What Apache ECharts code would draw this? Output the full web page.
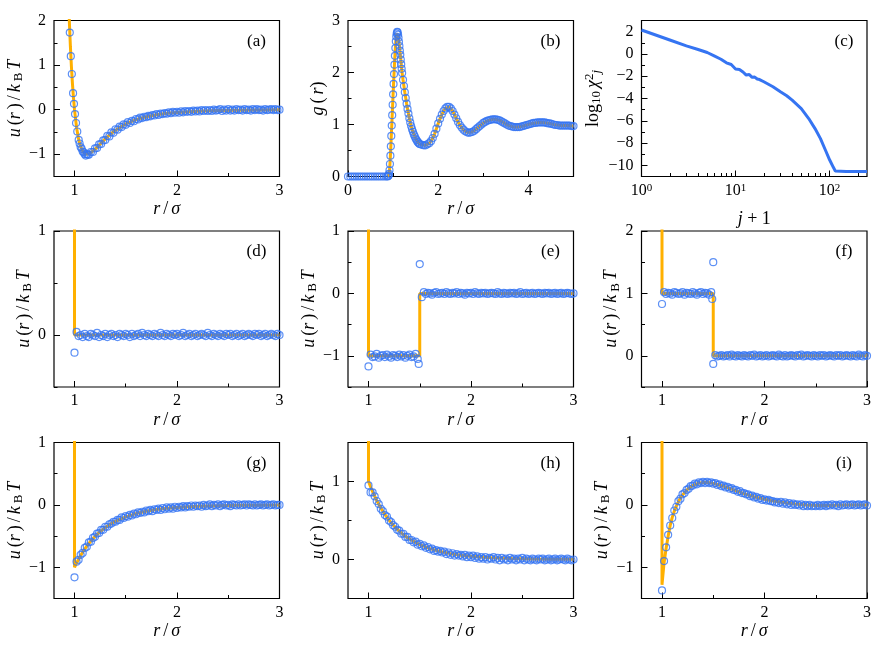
<!DOCTYPE html>
<html>
<head>
<meta charset="utf-8">
<script src="https://cdn.jsdelivr.net/npm/echarts@6.0.0/dist/echarts.min.js"></script>
<style>
  html, body { margin: 0; padding: 0; background: #fff; }
  #chart { width: 888px; height: 654px; }
</style>
</head>
<body>
<div id="chart"></div>
<script>
// ---- data ----
// common r grid for panels (d)-(i) and the tail of (a)
var R = [1.00, 1.02, 1.04, 1.06, 1.08, 1.10, 1.12, 1.14, 1.16, 1.18,
  1.20, 1.22, 1.24, 1.26, 1.28, 1.30, 1.32, 1.34, 1.36, 1.38,
  1.40, 1.42, 1.44, 1.46, 1.48, 1.50, 1.52, 1.54, 1.56, 1.58,
  1.60, 1.62, 1.64, 1.66, 1.68, 1.70, 1.72, 1.74, 1.76, 1.78,
  1.80, 1.82, 1.84, 1.86, 1.88, 1.90, 1.92, 1.94, 1.96, 1.98,
  2.00, 2.02, 2.04, 2.06, 2.08, 2.10, 2.12, 2.14, 2.16, 2.18,
  2.20, 2.22, 2.24, 2.26, 2.28, 2.30, 2.32, 2.34, 2.36, 2.38,
  2.40, 2.42, 2.44, 2.46, 2.48, 2.50, 2.52, 2.54, 2.56, 2.58,
  2.60, 2.62, 2.64, 2.66, 2.68, 2.70, 2.72, 2.74, 2.76, 2.78,
  2.80, 2.82, 2.84, 2.86, 2.88, 2.90, 2.92, 2.94, 2.96, 2.98,
  3.00];

// (a) Lennard-Jones
var R_A_HEAD = [0.954, 0.964, 0.974, 0.986, 0.995, 1.005, 1.015, 1.027, 1.041, 1.05, 1.06, 1.07, 1.08, 1.09, 1.10, 1.11, 1.12, 1.13];
var U_A_HEAD = [1.73, 1.20, 0.80, 0.37, 0.13, -0.10, -0.30, -0.49, -0.68, -0.76, -0.84, -0.88, -0.94, -0.96, -1.00, -1.03, -1.00, -1.01];
var U_A_TAIL = [ // r = 1.14 ... 3.00
  -1.01, -0.95, -0.95, -0.87, -0.86, -0.78, -0.77, -0.69, -0.68, -0.59,
  -0.60, -0.51, -0.52, -0.44, -0.45, -0.38, -0.39, -0.33, -0.34, -0.28,
  -0.30, -0.25, -0.26, -0.21, -0.22, -0.18, -0.19, -0.16, -0.17, -0.14,
  -0.15, -0.12, -0.13, -0.10, -0.12, -0.09, -0.10, -0.08, -0.09, -0.06,
  -0.08, -0.05, -0.07, -0.05, -0.07, -0.04, -0.06, -0.03, -0.05, -0.03,
  -0.05, -0.02, -0.04, -0.02, -0.04, -0.01, -0.03, -0.01, -0.03, -0.01,
  -0.03, 0.00, -0.02, -0.01, 0.01, -0.03, 0.00, -0.02, 0.01, -0.02,
  0.00, -0.02, 0.01, -0.01, 0.00, -0.02, 0.01, -0.01, 0.00, -0.02,
  0.01, -0.01, 0.01, -0.01, 0.00, -0.02, 0.01, -0.01, 0.00, 0.01,
  -0.01, 0.01, -0.01, 0.00];
var LINE_A = [[0.94, 2.607], [0.95, 1.961], [0.96, 1.418], [0.97, 0.963], [0.98, 0.582], [0.99, 0.264],
  [1.00, 0], [1.02, -0.398], [1.04, -0.663], [1.06, -0.832], [1.08, -0.932], [1.10, -0.983], [1.12, -1.0],
  [1.15, -0.982], [1.20, -0.891], [1.25, -0.774], [1.30, -0.657], [1.35, -0.552], [1.40, -0.461],
  [1.50, -0.320], [1.60, -0.224], [1.70, -0.159], [1.80, -0.114], [1.90, -0.083], [2.00, -0.062],
  [2.20, -0.035], [2.40, -0.021], [2.60, -0.013], [2.80, -0.008], [3.00, -0.005]];

// (b) g(r)
var G_B = [[0, 0], [0.05, 0], [0.1, 0], [0.15, 0], [0.2, 0], [0.25, 0], [0.3, 0], [0.35, 0], [0.4, 0], [0.45, 0],
  [0.5, 0], [0.55, 0], [0.6, 0], [0.65, 0], [0.7, 0], [0.75, 0], [0.8, 0], [0.85, 0], [0.88, 0], [0.89, 0.01],
  [0.90, 0.02], [0.91, 0.05], [0.92, 0.12], [0.93, 0.24], [0.94, 0.40], [0.95, 0.58], [0.96, 0.78], [0.97, 0.98],
  [0.98, 1.18], [0.99, 1.38], [1.00, 1.58], [1.01, 1.78], [1.02, 1.97], [1.03, 2.15], [1.04, 2.32], [1.05, 2.47],
  [1.06, 2.60], [1.07, 2.69], [1.08, 2.75], [1.09, 2.78], [1.10, 2.77], [1.11, 2.73], [1.12, 2.67], [1.13, 2.59],
  [1.14, 2.51], [1.15, 2.42], [1.16, 2.34], [1.17, 2.25], [1.18, 2.16], [1.19, 2.07], [1.20, 1.99],
  [1.22, 1.86], [1.24, 1.74], [1.26, 1.62], [1.28, 1.51], [1.30, 1.40], [1.32, 1.30], [1.34, 1.21], [1.36, 1.12],
  [1.38, 1.04], [1.40, 0.97], [1.42, 0.91], [1.44, 0.86], [1.46, 0.81], [1.48, 0.77], [1.50, 0.73], [1.52, 0.70],
  [1.54, 0.67], [1.56, 0.65], [1.58, 0.63], [1.60, 0.62],
  [1.64, 0.61], [1.68, 0.60], [1.72, 0.60], [1.76, 0.62], [1.80, 0.64], [1.84, 0.68], [1.88, 0.74], [1.92, 0.82],
  [1.96, 0.92], [2.00, 1.02], [2.04, 1.11], [2.08, 1.19], [2.12, 1.26], [2.16, 1.31], [2.20, 1.34], [2.24, 1.34],
  [2.28, 1.31], [2.32, 1.26], [2.36, 1.19], [2.40, 1.12], [2.44, 1.05], [2.48, 0.99], [2.52, 0.94], [2.56, 0.90],
  [2.60, 0.87], [2.64, 0.85], [2.68, 0.84], [2.72, 0.85], [2.76, 0.86], [2.80, 0.88], [2.84, 0.91], [2.88, 0.94],
  [2.92, 0.97], [2.96, 1.00], [3.00, 1.03], [3.04, 1.05], [3.08, 1.07], [3.12, 1.08], [3.16, 1.09], [3.20, 1.10],
  [3.24, 1.10], [3.28, 1.10], [3.32, 1.09], [3.36, 1.08], [3.40, 1.06], [3.44, 1.04], [3.48, 1.02], [3.52, 1.00],
  [3.56, 0.98], [3.60, 0.97], [3.64, 0.96], [3.68, 0.95], [3.72, 0.95], [3.76, 0.95], [3.80, 0.95], [3.84, 0.96],
  [3.88, 0.97], [3.92, 0.98], [3.96, 0.99], [4.00, 1.00], [4.04, 1.01], [4.08, 1.02], [4.12, 1.03], [4.16, 1.03],
  [4.20, 1.04], [4.24, 1.04], [4.28, 1.04], [4.32, 1.04], [4.36, 1.04], [4.40, 1.03], [4.44, 1.02], [4.48, 1.02],
  [4.52, 1.01], [4.56, 1.00], [4.60, 0.99], [4.64, 0.99], [4.68, 0.98], [4.72, 0.98], [4.76, 0.98], [4.80, 0.98],
  [4.84, 0.98], [4.88, 0.98], [4.92, 0.98], [4.96, 0.97], [5.00, 0.97]];

// (c) log10 chi^2 vs j+1
var CHI = [[1, 2.15], [2, 1.25], [3, 0.72], [4, 0.40], [5, 0.13], [6, -0.20], [7, -0.48], [8, -0.80], [9, -0.95],
  [10, -1.35], [11, -1.40], [12, -1.62], [13, -1.90], [14, -1.85], [15, -2.10], [16, -2.08], [17, -2.25], [18, -2.30],
  [20, -2.50], [25, -2.95], [30, -3.40], [35, -3.75], [40, -4.15], [50, -4.90], [60, -5.80], [70, -6.70], [80, -7.60],
  [90, -8.60], [100, -9.50], [110, -10.20], [115, -10.50], [120, -10.55], [150, -10.55], [200, -10.55], [250, -10.55]];

// (d) hard sphere
var U_D = [-0.17, 0.03, -0.01, 0.00, -0.02, 0.01, -0.01, -0.02, 0.01, 0.00,
  -0.01, 0.02, -0.02, 0.00, -0.01, 0.01, -0.02, 0.00, 0.01, -0.01,
  0.00, -0.02, 0.01, 0.00, -0.01, 0.01, 0.00, -0.02, 0.01, -0.01,
  0.00, 0.01, -0.01, 0.02, 0.00, -0.01, 0.01, 0.00, -0.01, 0.01,
  0.00, -0.01, 0.02, 0.00, -0.01, 0.01, 0.00, -0.01, 0.01, 0.00,
  0.01, -0.01, 0.00, 0.02, -0.01, 0.00, 0.01, -0.01, 0.00, 0.01,
  -0.01, 0.00, 0.01, 0.00, -0.01, 0.02, 0.00, -0.01, 0.01, 0.00,
  -0.01, 0.01, 0.00, -0.01, 0.01, 0.00, 0.01, -0.01, 0.00, 0.01,
  -0.01, 0.00, 0.01, -0.01, 0.00, 0.01, 0.00, -0.01, 0.01, 0.00,
  0.01, -0.01, 0.00, 0.01, -0.01, 0.00, 0.01, 0.00, -0.01, 0.01,
  0.00];
var LINE_D = [[1, 9], [1, 0], [3, 0]];

// (e) square well
var U_E = [-1.17, -0.98, -1.02, -1.01, -0.97, -1.03, -1.00, -0.99, -1.02, -0.98,
  -1.01, -1.03, -0.99, -1.00, -1.02, -0.98, -1.01, -0.99, -1.03, -1.00,
  -0.98, -1.02, -1.01, -0.97, -1.05, 0.47, -0.06, 0.02, -0.01, 0.01,
  0.00, -0.02, 0.01, 0.02, -0.01, 0.00, 0.01, -0.01, 0.02, 0.00,
  -0.01, 0.01, 0.00, 0.02, -0.01, 0.01, 0.00, -0.02, 0.01, 0.00,
  0.01, -0.01, 0.02, 0.00, -0.01, 0.01, 0.00, 0.01, -0.01, 0.00,
  0.01, 0.00, -0.01, 0.02, 0.00, -0.01, 0.01, 0.00, -0.01, 0.01,
  0.00, 0.01, -0.01, 0.00, 0.02, -0.01, 0.00, 0.01, -0.01, 0.00,
  0.01, -0.01, 0.00, 0.01, 0.00, -0.01, 0.01, 0.00, 0.01, -0.01,
  0.00, 0.01, -0.01, 0.00, 0.01, -0.01, 0.00, 0.01, 0.00, -0.01,
  0.00];
var OUT_E = [[1.49, -1.13]];
var LINE_E = [[1, 9], [1, -1], [1.5, -1], [1.5, 0], [3, 0]];

// (f) square shoulder
var U_F = [0.83, 1.02, 0.99, 1.01, 1.00, 0.98, 1.02, 1.01, 0.99, 1.00,
  1.02, 0.98, 1.01, 1.00, 0.99, 1.02, 1.00, 0.98, 1.01, 1.02,
  0.99, 1.01, 1.00, 0.98, 1.02, 1.50, 0.01, -0.01, 0.00, 0.01,
  -0.01, 0.00, 0.01, -0.01, 0.02, 0.00, -0.01, 0.01, 0.00, -0.01,
  0.01, 0.00, -0.01, 0.01, 0.00, 0.02, -0.01, 0.00, 0.01, -0.01,
  0.00, 0.01, -0.01, 0.00, 0.01, 0.00, -0.01, 0.02, 0.00, -0.01,
  0.01, -0.01, 0.00, 0.01, 0.00, -0.01, 0.01, 0.00, 0.02, -0.01,
  0.00, 0.01, 0.00, -0.01, 0.01, 0.00, -0.01, 0.01, 0.00, 0.01,
  -0.01, 0.00, 0.01, 0.00, -0.01, 0.01, 0.00, 0.01, -0.01, 0.00,
  0.01, 0.00, -0.01, 0.01, 0.00, -0.01, 0.02, 0.00, -0.01, 0.01,
  0.00];
var OUT_F = [[1.49, 0.91], [1.50, -0.13]];
var LINE_F = [[1, 9], [1, 1], [1.5, 1], [1.5, 0], [3, 0]];

// (g) attractive Yukawa
var U_G = [-1.16, -0.91, -0.88, -0.80, -0.77, -0.69, -0.67, -0.60, -0.59, -0.53,
  -0.51, -0.46, -0.45, -0.40, -0.40, -0.35, -0.35, -0.31, -0.30, -0.27,
  -0.27, -0.24, -0.24, -0.20, -0.21, -0.18, -0.19, -0.16, -0.17, -0.14,
  -0.15, -0.12, -0.13, -0.11, -0.12, -0.09, -0.10, -0.08, -0.10, -0.07,
  -0.08, -0.06, -0.08, -0.05, -0.07, -0.04, -0.06, -0.04, -0.06, -0.03,
  -0.05, -0.03, -0.04, -0.02, -0.04, -0.02, -0.03, -0.01, -0.03, -0.01,
  -0.02, -0.01, -0.03, 0.00, -0.02, -0.01, 0.01, -0.02, 0.00, -0.01,
  0.01, -0.02, 0.00, 0.01, -0.01, 0.00, -0.02, 0.01, 0.00, -0.01,
  0.01, -0.01, 0.00, 0.01, -0.01, 0.01, 0.00, -0.01, 0.01, -0.01,
  0.00, 0.01, -0.01, 0.00, 0.01, -0.01, 0.00, 0.01, -0.01, 0.00,
  0.00];
var LINE_G = [[1, 9], [1, -1], [1.02, -0.933], [1.04, -0.870], [1.06, -0.812], [1.08, -0.758], [1.10, -0.708],
  [1.12, -0.661], [1.16, -0.578], [1.20, -0.505], [1.25, -0.428], [1.30, -0.363], [1.35, -0.309], [1.40, -0.263],
  [1.50, -0.191], [1.60, -0.139], [1.70, -0.102], [1.80, -0.075], [1.90, -0.055], [2.00, -0.041], [2.20, -0.023],
  [2.40, -0.013], [2.60, -0.007], [2.80, -0.004], [3.00, -0.002]];

// (h) repulsive Yukawa
var U_H = [0.95, 0.86, 0.86, 0.81, 0.75, 0.71, 0.65, 0.62, 0.57, 0.55,
  0.50, 0.48, 0.44, 0.42, 0.38, 0.37, 0.33, 0.33, 0.29, 0.29,
  0.25, 0.25, 0.22, 0.23, 0.19, 0.20, 0.17, 0.18, 0.15, 0.16,
  0.13, 0.14, 0.11, 0.12, 0.10, 0.11, 0.09, 0.10, 0.07, 0.09,
  0.06, 0.08, 0.05, 0.07, 0.05, 0.06, 0.04, 0.06, 0.03, 0.05,
  0.03, 0.05, 0.02, 0.04, 0.01, 0.03, 0.01, 0.03, 0.00, 0.02,
  0.01, 0.03, 0.00, 0.02, -0.01, 0.02, 0.00, 0.01, -0.01, 0.02,
  0.00, 0.01, -0.01, 0.01, 0.00, 0.02, -0.01, 0.01, 0.00, -0.01,
  0.01, 0.00, -0.01, 0.01, 0.00, 0.01, -0.01, 0.00, 0.01, -0.01,
  0.00, 0.01, -0.01, 0.00, 0.01, 0.00, -0.01, 0.01, 0.00, -0.01,
  0.00];
var LINE_H = [[1, 9], [1, 1], [1.02, 0.933], [1.04, 0.870], [1.06, 0.812], [1.08, 0.758], [1.10, 0.708],
  [1.12, 0.661], [1.16, 0.578], [1.20, 0.505], [1.25, 0.428], [1.30, 0.363], [1.35, 0.309], [1.40, 0.263],
  [1.50, 0.191], [1.60, 0.139], [1.70, 0.102], [1.80, 0.075], [1.90, 0.055], [2.00, 0.041], [2.20, 0.023],
  [2.40, 0.013], [2.60, 0.007], [2.80, 0.004], [3.00, 0.002]];

// (i) oscillating potential
var U_I = [-1.37, -0.90, -0.68, -0.48, -0.33, -0.21, -0.09, -0.03, 0.06, 0.10,
  0.17, 0.19, 0.24, 0.26, 0.30, 0.31, 0.34, 0.33, 0.36, 0.35,
  0.37, 0.35, 0.37, 0.35, 0.36, 0.34, 0.35, 0.32, 0.33, 0.30,
  0.31, 0.28, 0.29, 0.26, 0.27, 0.24, 0.24, 0.21, 0.22, 0.19,
  0.19, 0.17, 0.17, 0.14, 0.15, 0.12, 0.13, 0.10, 0.11, 0.08,
  0.09, 0.07, 0.08, 0.06, 0.06, 0.04, 0.05, 0.03, 0.05, 0.02,
  0.04, 0.01, 0.03, 0.00, 0.02, 0.00, 0.01, -0.01, 0.01, -0.02,
  0.00, -0.02, 0.00, -0.02, -0.01, -0.02, 0.00, -0.02, -0.01, 0.00,
  -0.02, 0.00, -0.01, 0.01, -0.01, 0.00, -0.02, 0.01, -0.01, 0.00,
  0.01, -0.01, 0.00, 0.01, -0.01, 0.00, 0.01, -0.01, 0.00, 0.01,
  -0.01];
var LINE_I = [[1, 9], [1, -1.28], [1.02, -0.93], [1.04, -0.70], [1.06, -0.50], [1.08, -0.33], [1.10, -0.20],
  [1.12, -0.10], [1.14, -0.02], [1.16, 0.05], [1.18, 0.11], [1.20, 0.16], [1.25, 0.25], [1.30, 0.31], [1.35, 0.345],
  [1.40, 0.36], [1.45, 0.36], [1.50, 0.345], [1.60, 0.30], [1.70, 0.24], [1.80, 0.18], [1.90, 0.13], [2.00, 0.09],
  [2.10, 0.06], [2.20, 0.035], [2.30, 0.015], [2.40, 0.0], [2.50, -0.01], [2.60, -0.01], [2.70, -0.005], [2.80, 0], [3.00, 0]];

// ---- styling ----
var FONT = 'Liberation Serif';
var ORANGE = '#FFB000';
var BLUE = '#3574F2';
var COL_LEFT = [54, 348, 641.5];
var ROW_TOP = [20.5, 231, 442.5];
var W = 225.5, H = 156;

var RICH = {
    i: {fontFamily: FONT, fontStyle: 'italic', fontSize: 18, lineHeight: 20, color: '#000'},
    s: {fontFamily: FONT, fontSize: 13, lineHeight: 20, verticalAlign: 'bottom', color: '#000'},
    p: {fontFamily: FONT, fontSize: 13, lineHeight: 20, verticalAlign: 'top', color: '#000'},
    si: {fontFamily: FONT, fontStyle: 'italic', fontSize: 13, lineHeight: 20, verticalAlign: 'bottom', color: '#000'},
    g: {fontFamily: FONT, fontSize: 12, lineHeight: 20}   // thin gap, like math spacing
};
var GAP = '{g| }';
var U_NAME = '{i|u}' + GAP + '(' + '{i|r}' + GAP + ')' + GAP + '/' + GAP + '{i|k}' + GAP + '{s|B}' + GAP + '{i|T}';
var R_NAME = '{i|r}' + GAP + '/' + GAP + '{i|\u03c3}';

function pairs(xs, ys) {
    return ys.map(function (y, i) { return [xs[i], y]; });
}
function fmt(v) {
    return (v < 0 ? '\u2212' : '') + Math.abs(v);
}

var panels = [
    {tag: '(a)', col: 0, row: 0, x: [0.8, 3], xMaj: [1, 2, 3], xMin: [1.5, 2.5],
        y: [-1.5, 2], yMaj: [-1, 0, 1, 2], yMin: [-1.5, -0.5, 0.5, 1.5], yName: U_NAME, yGap: 18,
        line: LINE_A, pts: pairs(R_A_HEAD, U_A_HEAD).concat(pairs(R.slice(7), U_A_TAIL))},
    {tag: '(b)', col: 1, row: 0, x: [0, 5], xMaj: [0, 2, 4], xMin: [1, 3, 5],
        y: [0, 3], yMaj: [0, 1, 2, 3], yMin: [0.5, 1.5, 2.5], yName: '{i|g}' + GAP + '(' + GAP + '{i|r})', yGap: 20,
        line: G_B.filter(function (p) { return p[0] >= 0.88; }), pts: G_B},
    {tag: '(c)', col: 2, row: 0, log: true, x: [1, 250], xMaj: [1, 10, 100],
        xMin: [2, 3, 4, 5, 6, 7, 8, 9, 20, 30, 40, 50, 60, 70, 80, 90, 200],
        y: [-11, 3], yMaj: [-10, -8, -6, -4, -2, 0, 2], yMin: [-11, -9, -7, -5, -3, -1, 1, 3],
        yName: 'log{s|10}' + GAP + '{i|\u03c7}{p|2}{si|j}', yGap: 38, xName: '{i|j} + 1', xGap: 33, chi: CHI},
    {tag: '(d)', col: 0, row: 1, x: [0.8, 3], xMaj: [1, 2, 3], xMin: [1.5, 2.5],
        y: [-0.5, 1], yMaj: [0, 1], yMin: [-0.5, 0.5], yName: U_NAME, yGap: 18,
        line: LINE_D, pts: pairs(R, U_D)},
    {tag: '(e)', col: 1, row: 1, x: [0.8, 3], xMaj: [1, 2, 3], xMin: [1.5, 2.5],
        y: [-1.5, 1], yMaj: [-1, 0, 1], yMin: [-1.5, -0.5, 0.5], yName: U_NAME, yGap: 18,
        line: LINE_E, pts: pairs(R, U_E).concat(OUT_E)},
    {tag: '(f)', col: 2, row: 1, x: [0.8, 3], xMaj: [1, 2, 3], xMin: [1.5, 2.5],
        y: [-0.5, 2], yMaj: [0, 1, 2], yMin: [-0.5, 0.5, 1.5], yName: U_NAME, yGap: 18,
        line: LINE_F, pts: pairs(R, U_F).concat(OUT_F)},
    {tag: '(g)', col: 0, row: 2, x: [0.8, 3], xMaj: [1, 2, 3], xMin: [1.5, 2.5],
        y: [-1.5, 1], yMaj: [-1, 0, 1], yMin: [-1.5, -0.5, 0.5], yName: U_NAME, yGap: 18,
        line: LINE_G, pts: pairs(R, U_G)},
    {tag: '(h)', col: 1, row: 2, x: [0.8, 3], xMaj: [1, 2, 3], xMin: [1.5, 2.5],
        y: [-0.5, 1.5], yMaj: [0, 1], yMin: [-0.5, 0.5, 1.5], yName: U_NAME, yGap: 18,
        line: LINE_H, pts: pairs(R, U_H)},
    {tag: '(i)', col: 2, row: 2, x: [0.8, 3], xMaj: [1, 2, 3], xMin: [1.5, 2.5],
        y: [-1.5, 1], yMaj: [-1, 0, 1], yMin: [-1.5, -0.5, 0.5], yName: U_NAME, yGap: 18,
        line: LINE_I, pts: pairs(R, U_I)}
];

var grids = [], xAxes = [], yAxes = [], series = [], graphics = [];

panels.forEach(function (p, g) {
    var left = COL_LEFT[p.col], top = ROW_TOP[p.row];
    grids.push({left: left, top: top, width: W, height: H, show: true,
        borderColor: '#000', borderWidth: 1.2, backgroundColor: 'transparent'});

    var xType = p.log ? 'log' : 'value';
    var xi = xAxes.length, yi = yAxes.length;
    // main axes: labels + short (minor) ticks
    xAxes.push({
        gridIndex: g, type: xType, logBase: 10, position: 'bottom', min: p.x[0], max: p.x[1],
        axisLine: {show: false, onZero: false},
        axisTick: {show: true, inside: true, length: 3.5, customValues: p.xMin, lineStyle: {color: '#000', width: 1}},
        axisLabel: {customValues: p.xMaj, color: '#000', fontFamily: FONT, fontSize: 16, margin: 6,
            formatter: p.log ? function (v) { return '10{p|' + Math.round(Math.log(v) / Math.LN10) + '}'; } : fmt,
            rich: {p: {fontFamily: FONT, fontSize: 11, verticalAlign: 'top', color: '#000'}}},
        splitLine: {show: false},
        name: p.xName || R_NAME, nameLocation: 'middle', nameGap: p.xGap || 11,
        nameTextStyle: {fontFamily: FONT, fontSize: 18, lineHeight: 20, color: '#000', rich: RICH}
    });
    // overlay axes: long (major) ticks only
    xAxes.push({
        gridIndex: g, type: xType, logBase: 10, position: 'bottom', min: p.x[0], max: p.x[1],
        axisLine: {show: false, onZero: false},
        axisTick: {show: true, inside: true, length: 6, customValues: p.xMaj, lineStyle: {color: '#000', width: 1}},
        axisLabel: {show: false}, splitLine: {show: false}
    });
    yAxes.push({
        gridIndex: g, type: 'value', position: 'left', min: p.y[0], max: p.y[1],
        axisLine: {show: false, onZero: false},
        axisTick: {show: true, inside: true, length: 3.5, customValues: p.yMin, lineStyle: {color: '#000', width: 1}},
        axisLabel: {customValues: p.yMaj, color: '#000', fontFamily: FONT, fontSize: 16, margin: 8, formatter: fmt},
        splitLine: {show: false},
        name: p.yName, nameLocation: 'middle', nameRotate: 90, nameGap: p.yGap,
        nameTextStyle: {fontFamily: FONT, fontSize: 18, lineHeight: 20, color: '#000', rich: RICH}
    });
    yAxes.push({
        gridIndex: g, type: 'value', position: 'left', min: p.y[0], max: p.y[1],
        axisLine: {show: false, onZero: false},
        axisTick: {show: true, inside: true, length: 6, customValues: p.yMaj, lineStyle: {color: '#000', width: 1}},
        axisLabel: {show: false}, splitLine: {show: false}
    });

    if (p.chi) {
        series.push({type: 'line', xAxisIndex: xi, yAxisIndex: yi, data: p.chi, symbol: 'none',
            lineStyle: {color: BLUE, width: 3}, z: 3});
    } else {
        series.push({type: 'line', xAxisIndex: xi, yAxisIndex: yi, data: p.line, symbol: 'none',
            lineStyle: {color: ORANGE, width: 3}, clip: true, z: 2});
        series.push({type: 'scatter', xAxisIndex: xi, yAxisIndex: yi, data: p.pts, symbol: 'circle',
            symbolSize: 7, clip: true, z: 3,
            itemStyle: {color: 'rgba(0,0,0,0)', borderColor: BLUE, borderWidth: 1.2}});
    }

    graphics.push({type: 'text', x: left + W - 23, y: top + 21, z: 10,
        style: {text: p.tag, fill: '#000', font: '17px "' + FONT + '"',
            textAlign: 'center', verticalAlign: 'middle', textVerticalAlign: 'middle'}});
});

var chart = echarts.init(document.getElementById('chart'), null, {renderer: 'canvas'});
chart.setOption({
    animation: false,
    backgroundColor: '#fff',
    textStyle: {fontFamily: FONT},
    grid: grids,
    xAxis: xAxes,
    yAxis: yAxes,
    series: series,
    graphic: graphics
});
</script>
</body>
</html>
